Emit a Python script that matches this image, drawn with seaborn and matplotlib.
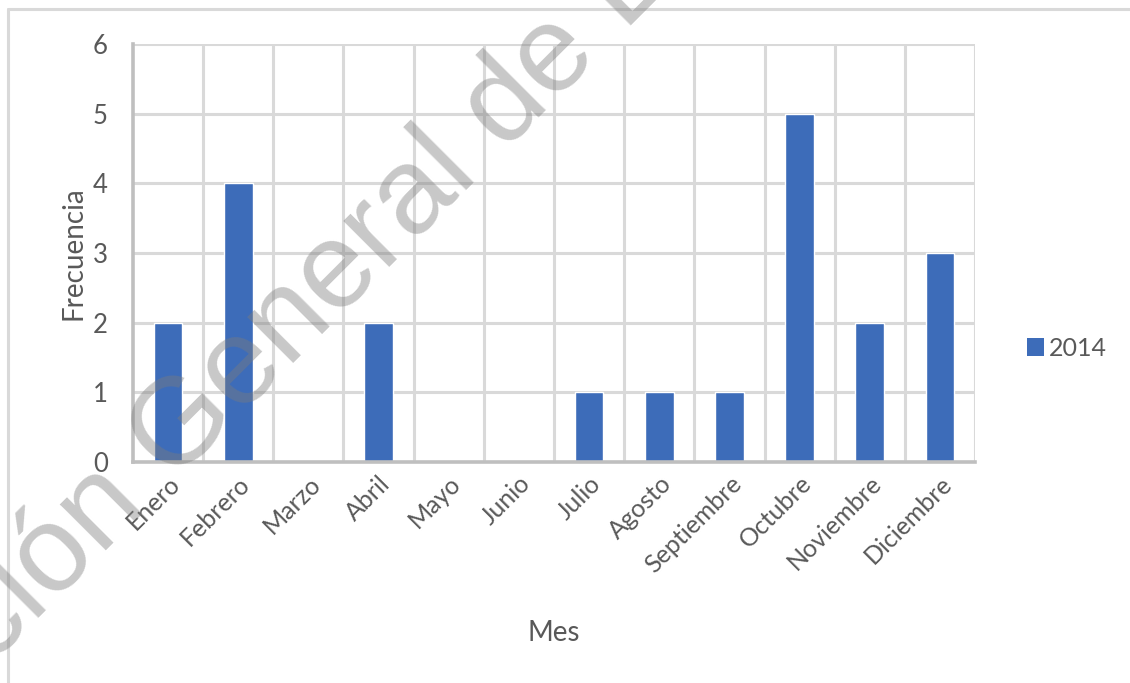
import matplotlib
matplotlib.use("Agg")
import matplotlib.pyplot as plt
import seaborn as sns
import pandas as pd
import numpy as np
from matplotlib.lines import Line2D
from matplotlib.patches import Patch

meses = ["Enero", "Febrero", "Marzo", "Abril", "Mayo", "Junio", "Julio",
         "Agosto", "Septiembre", "Octubre", "Noviembre", "Diciembre"]
frecuencia_2014 = [2, 4, 0, 2, 0, 0, 1, 1, 1, 5, 2, 3]
serie = "2014"
y_ticks = [0, 1, 2, 3, 4, 5, 6]
marca_agua = "Dirección General de Bibliotecas"

BAR_COLOR = "#3d6cb9"
TEXT_COLOR = "#595959"
GRID_COLOR = "#d9d9d9"
AXIS_COLOR = "#bfbfbf"

sns.set_theme(style="white")
plt.rcParams["font.family"] = ["Lato", "DejaVu Sans"]

W, H = 1130, 683
fig = plt.figure(figsize=(W / 100, H / 100), dpi=100)
ax = fig.add_axes([133 / W, 1 - 462 / H, (975 - 133) / W, (462 - 44) / H])

df = pd.DataFrame({"Mes": meses, "Frecuencia": frecuencia_2014})
sns.barplot(data=df, x="Mes", y="Frecuencia", color=BAR_COLOR, width=0.41,
            saturation=1, ax=ax, zorder=3)

ax.set_xlim(-0.5, len(meses) - 0.5)
ax.set_ylim(0, 6)
ax.set_yticks(y_ticks)

# grid: horizontal at each unit, vertical at category boundaries
for yv in y_ticks[1:]:
    ax.axhline(yv, color=GRID_COLOR, lw=2.2, zorder=1)
for xv in np.arange(-0.5, len(meses), 1.0)[1:]:
    ax.axvline(xv, color=GRID_COLOR, lw=2.2, zorder=1)

for side in ["top", "right"]:
    ax.spines[side].set_visible(False)
for side in ["left", "bottom"]:
    ax.spines[side].set_color(AXIS_COLOR)
    ax.spines[side].set_linewidth(2.6)
    ax.spines[side].set_zorder(4)

ax.tick_params(axis="y", length=0, pad=18, labelsize=18.5, labelcolor=TEXT_COLOR)
ax.tick_params(axis="x", length=0, pad=7, labelsize=18, labelcolor=TEXT_COLOR)
plt.setp(ax.get_xticklabels(), rotation=45, ha="right", rotation_mode="anchor")

ax.set_xlabel("Mes", fontsize=20, color=TEXT_COLOR, labelpad=31)
ax.set_ylabel("Frecuencia", fontsize=20, color=TEXT_COLOR, labelpad=5)

# legend to the right of the plot area
handle = Patch(facecolor=BAR_COLOR, edgecolor="none")
fig.legend([handle], [serie], loc="center left",
           bbox_to_anchor=(1014 / W, 1 - 348 / H), frameon=False,
           fontsize=18, labelcolor=TEXT_COLOR, handlelength=0.7,
           handleheight=0.7, handletextpad=0.2, borderpad=0)

# chart frame (top and left edges)
fig.add_artist(Line2D([8 / W, 8 / W], [0, 1 - 9 / H], transform=fig.transFigure,
                      color=GRID_COLOR, lw=2.2))
fig.add_artist(Line2D([8 / W, 1], [1 - 9 / H, 1 - 9 / H], transform=fig.transFigure,
                      color=GRID_COLOR, lw=2.2))

# diagonal watermark across the chart, placed so that the "l" of
# "General" ends at a fixed pixel position
wm_kw = dict(fontsize=88, family="Liberation Sans")
renderer = fig.canvas.get_renderer()
t_pre = fig.text(0, 0, "Dirección General", **wm_kw)
offset = t_pre.get_window_extent(renderer).width
t_pre.remove()
c = np.cos(np.deg2rad(45))
lx, ly = 480, 176  # end of "General" on the baseline, pixels from top-left
sx = lx - offset * c
sy = ly + offset * c
fig.text(sx / W, 1 - sy / H, marca_agua, rotation=45, rotation_mode="anchor",
         ha="left", va="baseline", color="#7c7c7c", alpha=0.42, zorder=10,
         **wm_kw)

fig.savefig("out.png", dpi=100)
